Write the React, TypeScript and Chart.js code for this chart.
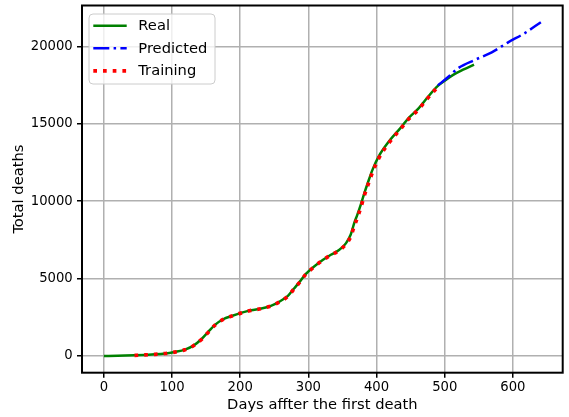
import React, { useEffect, useRef } from "react";
import { Chart, registerables } from "chart.js";

Chart.register(...registerables);

// ---- Data ----
const realDays = [0, 20, 45, 70, 90, 104, 119, 132, 143, 153, 163, 175, 188, 201, 216, 231, 245, 257, 270, 279, 288, 296, 308, 321, 333, 345, 355, 362, 367, 372, 377, 382, 387, 394, 403, 418, 435, 447, 462, 474, 488, 500, 513, 527, 543];
const realDeaths = [0, 10, 45, 95, 155, 260, 414, 690, 1080, 1550, 2010, 2375, 2590, 2785, 2960, 3065, 3240, 3500, 3885, 4360, 4835, 5290, 5760, 6195, 6540, 6840, 7275, 7830, 8550, 9150, 9800, 10510, 11160, 12020, 12880, 13850, 14720, 15365, 16010, 16660, 17370, 17780, 18170, 18490, 18815];

const predDays = [490, 505, 520, 545, 569, 593, 618, 641];
const predDeaths = [17480, 18020, 18600, 19140, 19610, 20260, 20870, 21560];

const trainDays = [45, 60, 75, 90, 104, 119, 132, 143, 153, 163, 175, 188, 201, 216, 231, 245, 257, 270, 279, 288, 296, 308, 321, 333, 345, 355, 362, 367, 372, 377, 382, 387, 394, 403, 418, 435, 447, 462, 474, 487];
const trainDeaths = [40, 70, 110, 160, 250, 400, 680, 1060, 1520, 1990, 2360, 2580, 2770, 2950, 3060, 3230, 3480, 3860, 4330, 4800, 5260, 5740, 6180, 6520, 6820, 7220, 7700, 8350, 8950, 9600, 10350, 11000, 11850, 12750, 13750, 14650, 15300, 15950, 16600, 17250];

const seriesLabels = ["Real", "Predicted", "Training"];
const xTicks = [0, 100, 200, 300, 400, 500, 600];
const yTicks = [0, 5000, 10000, 15000, 20000];
const xTitle = "Days affter the first death";
const yTitle = "Total deaths";

const FONT = "DejaVu Sans";

function toPoints(xs: number[], ys: number[]) {
  return xs.map((x, i) => ({ x, y: ys[i] }));
}

function limits(vals: number[]) {
  const lo = Math.min(...vals);
  const hi = Math.max(...vals);
  const m = (hi - lo) * 0.05;
  return [lo - m, hi + m];
}

const mplPlugin = {
  id: "mplDecor",
  afterDatasetsDraw(chart: any) {
    const { ctx, chartArea: ca } = chart;
    ctx.save();
    // spines
    ctx.strokeStyle = "#000";
    ctx.lineWidth = 2;
    ctx.setLineDash([]);
    ctx.strokeRect(ca.left, ca.top, ca.right - ca.left, ca.bottom - ca.top);

    // legend
    const x0 = ca.left + 7;
    const y0 = ca.top + 8.5;
    const w = 126;
    const h = 70;
    const r = 4;
    ctx.beginPath();
    ctx.moveTo(x0 + r, y0);
    ctx.lineTo(x0 + w - r, y0);
    ctx.arcTo(x0 + w, y0, x0 + w, y0 + r, r);
    ctx.lineTo(x0 + w, y0 + h - r);
    ctx.arcTo(x0 + w, y0 + h, x0 + w - r, y0 + h, r);
    ctx.lineTo(x0 + r, y0 + h);
    ctx.arcTo(x0, y0 + h, x0, y0 + h - r, r);
    ctx.lineTo(x0, y0 + r);
    ctx.arcTo(x0, y0, x0 + r, y0, r);
    ctx.closePath();
    ctx.fillStyle = "rgba(255,255,255,0.8)";
    ctx.fill();
    ctx.strokeStyle = "#cccccc";
    ctx.lineWidth = 1;
    ctx.stroke();

    chart.data.datasets.forEach((ds: any, i: number) => {
      const y = y0 + 11.7 + i * 22.6;
      ctx.beginPath();
      ctx.setLineDash(ds.borderDash || []);
      ctx.lineDashOffset = 0;
      ctx.lineCap = "butt";
      ctx.lineWidth = ds.borderWidth;
      ctx.strokeStyle = ds.borderColor;
      ctx.moveTo(x0 + 4.3, y);
      ctx.lineTo(x0 + 37.7, y);
      ctx.stroke();
      ctx.setLineDash([]);
      ctx.fillStyle = "#000";
      ctx.font = `14.7px "${FONT}"`;
      ctx.textBaseline = "middle";
      ctx.textAlign = "left";
      ctx.fillText(ds.label, x0 + 49.3, y + 0.5);
    });
    ctx.restore();
  },
};

export default function App() {
  const ref = useRef<HTMLCanvasElement | null>(null);

  useEffect(() => {
    document.body.style.margin = "0";
    document.body.style.overflow = "hidden";
    const canvas = ref.current;
    if (!canvas) return;
    const [xMin, xMax] = limits([...realDays, ...predDays, ...trainDays]);
    const [yMin, yMax] = limits([...realDeaths, ...predDeaths, ...trainDeaths]);

    const chart = new Chart(canvas, {
      type: "line",
      data: {
        datasets: [
          {
            label: seriesLabels[0],
            data: toPoints(realDays, realDeaths),
            borderColor: "#008000",
            borderWidth: 2.5,
            pointRadius: 0,
            cubicInterpolationMode: "monotone",
            order: 3,
          },
          {
            label: seriesLabels[1],
            data: toPoints(predDays, predDeaths),
            borderColor: "#0000ff",
            borderWidth: 2.5,
            borderDash: [16, 4.3, 2.5, 4.3],
            borderCapStyle: "butt",
            pointRadius: 0,
            cubicInterpolationMode: "monotone",
            order: 2,
          },
          {
            label: seriesLabels[2],
            data: toPoints(trainDays, trainDeaths),
            borderColor: "#ff0000",
            borderWidth: 3.7,
            borderDash: [3.7, 6],
            borderCapStyle: "butt",
            pointRadius: 0,
            cubicInterpolationMode: "monotone",
            order: 1,
          },
        ] as any,
      },
      options: {
        animation: false,
        responsive: false,
        maintainAspectRatio: false,
        devicePixelRatio: 1,
        layout: { padding: { top: 5.5, right: 6.3, left: 0, bottom: 0 } },
        plugins: {
          legend: { display: false },
          tooltip: { enabled: false },
        },
        scales: {
          x: {
            type: "linear",
            min: xMin,
            max: xMax,
            afterBuildTicks: (s: any) => {
              s.ticks = xTicks.map((v) => ({ value: v }));
            },
            afterFit: (s: any) => {
              s.height = 44.3;
              s.paddingLeft = 0;
              s.paddingRight = 0;
            },
            grid: {
              color: "#b0b0b0",
              lineWidth: 1.5,
              drawTicks: true,
              tickLength: 5,
              tickColor: "#000",
              tickWidth: 1.5,
            },
            border: { display: false },
            ticks: {
              color: "#000",
              padding: 2,
              maxRotation: 0,
              autoSkip: false,
              font: { family: FONT, size: 13.2 },
              callback: (v: any) => String(v),
            },
            title: {
              display: true,
              text: xTitle,
              color: "#000",
              font: { family: FONT, size: 14.7 },
              padding: { top: 0, bottom: 3.2 },
            },
          },
          y: {
            type: "linear",
            min: yMin,
            max: yMax,
            afterBuildTicks: (s: any) => {
              s.ticks = yTicks.map((v) => ({ value: v }));
            },
            afterFit: (s: any) => {
              s.width = 82;
              s.paddingTop = 0;
              s.paddingBottom = 0;
            },
            grid: {
              color: "#b0b0b0",
              lineWidth: 1.5,
              drawTicks: true,
              tickLength: 5,
              tickColor: "#000",
              tickWidth: 1.5,
            },
            border: { display: false },
            ticks: {
              color: "#000",
              padding: 4.3,
              autoSkip: false,
              font: { family: FONT, size: 13.2 },
              callback: (v: any) => String(v),
            },
            title: {
              display: true,
              text: yTitle,
              color: "#000",
              font: { family: FONT, size: 14.7 },
              padding: { top: 10.4, bottom: 0 },
            },
          },
        },
      } as any,
      plugins: [mplPlugin],
    });
    return () => chart.destroy();
  }, []);

  return (
    <div style={{ position: "absolute", left: 0, top: 0, width: 569, height: 417 }}>
      <canvas ref={ref} width={569} height={417} style={{ width: 569, height: 417, display: "block" }} />
    </div>
  );
}
